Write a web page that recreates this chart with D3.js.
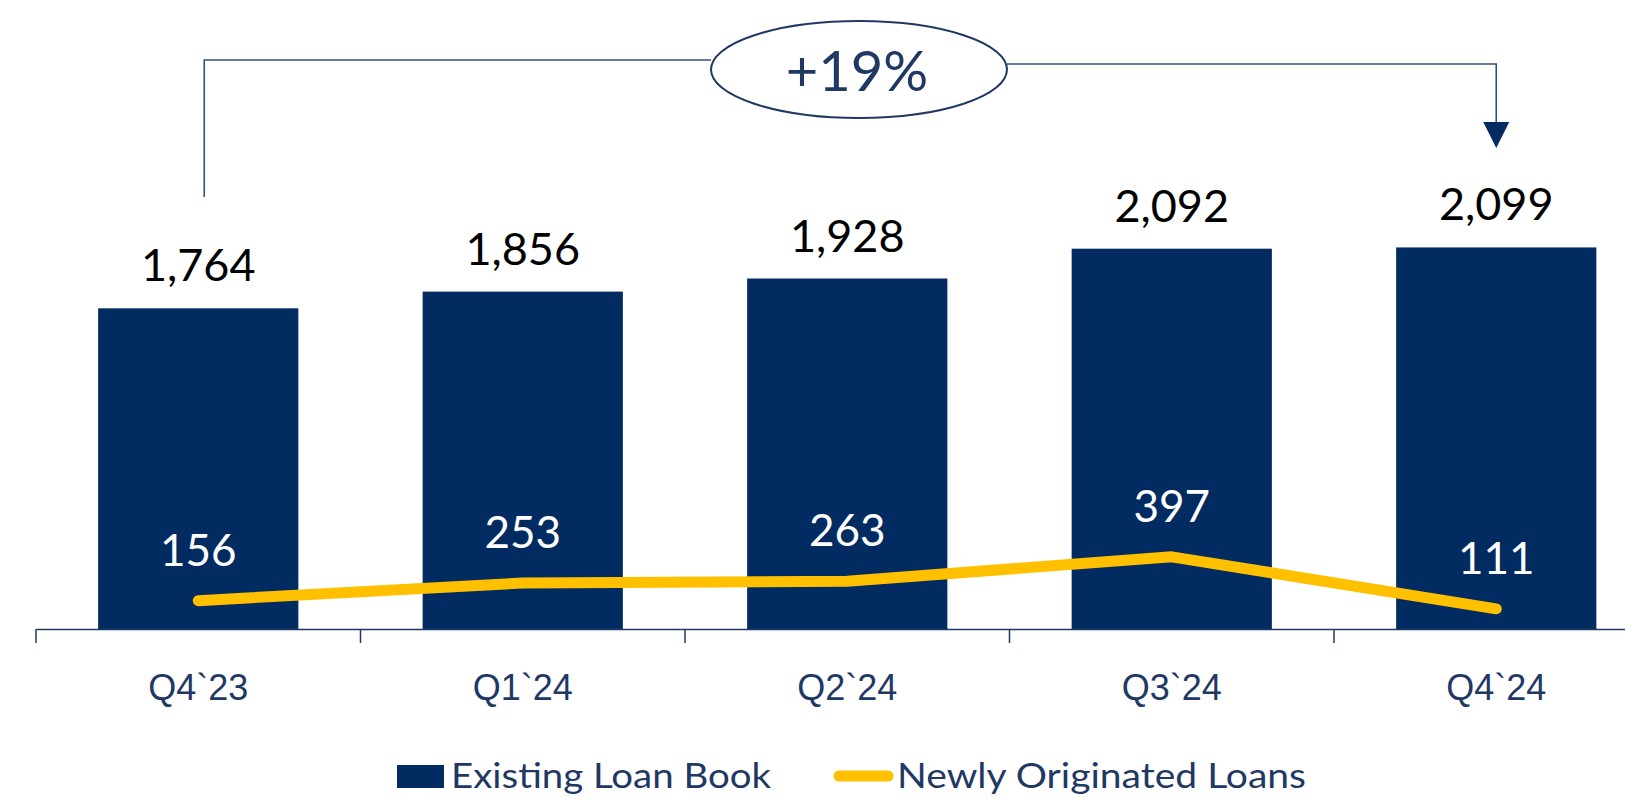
<!DOCTYPE html>
<html>
<head>
<meta charset="utf-8">
<script src="https://cdn.jsdelivr.net/npm/d3@7"></script>
<style>
  html, body { margin: 0; padding: 0; background: #ffffff; }
  svg { display: block; font-family: Lato, "Noto Sans", sans-serif; }
</style>
</head>
<body>
<svg id="chart" width="1625" height="799"></svg>
<script>
const categories = ["Q4`23", "Q1`24", "Q2`24", "Q3`24", "Q4`24"];
const existingLoanBook = [1764, 1856, 1928, 2092, 2099];
const newlyOriginated = [156, 253, 263, 397, 111];
const seriesNames = ["Existing Loan Book", "Newly Originated Loans"];
const growthLabel = "+19%";

const barColor = "#022C61";
const lineColor = "#FFC000";
const navy = "#1F3864";

const svg = d3.select("#chart");

const x = d3.scaleBand().domain(categories).range([36, 36 + 5 * 324.5]).padding(0);
const y = d3.scaleLinear().domain([0, 3460]).range([629, 0]);
const barW = x.bandwidth() * 0.617;
const cx = c => x(c) + x.bandwidth() / 2;
const fmt = d3.format(",");

// bars
svg.append("g").selectAll("rect").data(categories).join("rect")
  .attr("x", c => cx(c) - barW / 2)
  .attr("y", (c, i) => y(existingLoanBook[i]))
  .attr("width", barW)
  .attr("height", (c, i) => y(0) - y(existingLoanBook[i]))
  .attr("fill", barColor);

// bar labels
svg.append("g").selectAll("text").data(categories).join("text")
  .attr("x", cx)
  .attr("y", (c, i) => y(existingLoanBook[i]) - 27)
  .attr("text-anchor", "middle")
  .attr("font-size", 45)
  .attr("fill", "#000")
  .text((c, i) => fmt(existingLoanBook[i]));

// axis
const axis = svg.append("g").attr("transform", "translate(0,629)")
  .call(d3.axisBottom(x).tickSize(0).tickPadding(0).tickFormat(""));
axis.select(".domain").attr("stroke", navy).attr("stroke-width", 1.5);
axis.selectAll(".tick").remove();
const tickXs = categories.map(c => x(c)).concat([x(categories[4]) + x.bandwidth()]);
axis.selectAll("line.t").data(tickXs).join("line").attr("class", "t")
  .attr("x1", d => d).attr("x2", d => d).attr("y1", 0).attr("y2", 14)
  .attr("stroke", navy).attr("stroke-width", 1.5);
axis.selectAll("text.lbl").data(categories).join("text").attr("class", "lbl")
  .attr("x", cx).attr("y", 71)
  .attr("text-anchor", "middle")
  .attr("font-size", 36)
  .attr("fill", navy)
  .text(d => d);

// line
const line = d3.line().x(c => cx(c)).y((c, i) => y(newlyOriginated[i]));
svg.append("path").datum(categories)
  .attr("d", line)
  .attr("fill", "none")
  .attr("stroke", lineColor)
  .attr("stroke-width", 11)
  .attr("stroke-linecap", "round")
  .attr("stroke-linejoin", "round");

// line labels
svg.append("g").selectAll("text").data(categories).join("text")
  .attr("x", cx)
  .attr("y", (c, i) => y(newlyOriginated[i]) - 35)
  .attr("text-anchor", "middle")
  .attr("font-size", 44)
  .attr("fill", "#fff")
  .text((c, i) => newlyOriginated[i]);

// annotation
const xStart = cx(categories[0]) + 6;
const xEnd = cx(categories[4]);
const ann = svg.append("g");
ann.append("path")
  .attr("d", `M${xStart},197 L${xStart},60 L711,60`)
  .attr("fill", "none").attr("stroke", "#2F4F80").attr("stroke-width", 1.6);
ann.append("path")
  .attr("d", `M1007,64 L${xEnd},64 L${xEnd},124`)
  .attr("fill", "none").attr("stroke", "#2F4F80").attr("stroke-width", 1.6);
ann.append("path")
  .attr("d", `M${xEnd - 13},122 L${xEnd + 13},122 L${xEnd},148 Z`)
  .attr("fill", barColor);
ann.append("ellipse")
  .attr("cx", 859).attr("cy", 69.5).attr("rx", 148).attr("ry", 48.5)
  .attr("fill", "#fff").attr("stroke", navy).attr("stroke-width", 2);
ann.append("text")
  .attr("x", 857).attr("y", 91)
  .attr("text-anchor", "middle")
  .attr("font-size", 56)
  .attr("fill", navy)
  .text(growthLabel);

// legend
const lg = svg.append("g");
lg.append("rect").attr("x", 397).attr("y", 765).attr("width", 47).attr("height", 23).attr("fill", barColor);
lg.append("text").attr("x", 451).attr("y", 788).attr("font-size", 35).attr("fill", navy)
  .attr("textLength", 320).attr("lengthAdjust", "spacingAndGlyphs").text(seriesNames[0]);
lg.append("line").attr("x1", 839).attr("x2", 888).attr("y1", 776).attr("y2", 776)
  .attr("stroke", lineColor).attr("stroke-width", 11).attr("stroke-linecap", "round");
lg.append("text").attr("x", 897).attr("y", 788).attr("font-size", 35).attr("fill", navy)
  .attr("textLength", 409).attr("lengthAdjust", "spacingAndGlyphs").text(seriesNames[1]);
</script>
</body>
</html>
